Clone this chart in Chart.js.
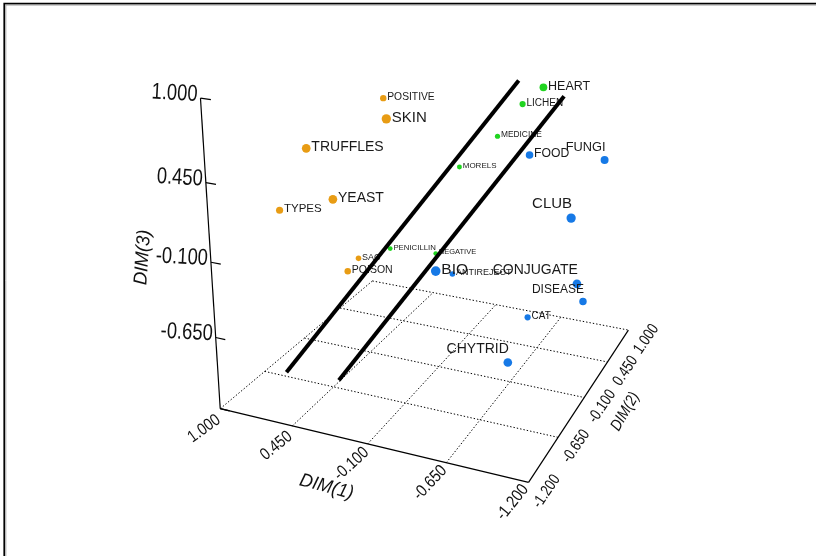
<!DOCTYPE html>
<html>
<head>
<meta charset="utf-8">
<script src="https://cdn.jsdelivr.net/npm/chart.js@4.4.1/dist/chart.umd.min.js"></script>
<style>
  html, body { margin: 0; padding: 0; background: #fff; }
  canvas { display: block; }
</style>
</head>
<body>
<canvas id="chart" width="816" height="556"></canvas>
<script>
// ---- data: terms placed on three dimensions ----
const terms = ['POSITIVE', 'SKIN', 'TRUFFLES', 'YEAST', 'TYPES', 'SAC', 'POISON',
  'HEART', 'LICHEN', 'MEDICINE', 'MORELS', 'PENICILLIN', 'NEGATIVE',
  'FOOD', 'FUNGI', 'CLUB', 'CONJUGATE', 'DISEASE', 'BIO', 'ANTIREJECT', 'CAT', 'CHYTRID'];
const cluster = [0, 0, 0, 0, 0, 0, 0,
  1, 1, 1, 1, 1, 1,
  2, 2, 2, 2, 2, 2, 2, 2, 2];
const dim1 = [0.622, 0.266, 0.810, 0.552, 0.760, 0.305, 0.327,
  -0.702, -0.484, -0.516, -0.219, 0.126, -0.157,
  -0.786, -0.997, -0.950, -0.958, -0.980, -0.258, -0.235, -0.755, -0.787];
const dim2 = [0.450, -0.210, -0.320, -0.430, -0.760, -0.540, -0.650,
  0.120, 0.340, -0.190, -0.100, -0.430, -0.320,
  -0.320, 0.670, 0.120, 0.340, 0.450, -0.540, -0.210, -0.100, -0.540];
const dim3 = [0.602, 0.684, 0.428, 0.133, 0.140, -0.218, -0.271,
  0.942, 0.736, 0.668, 0.378, -0.157, -0.187,
  0.620, 0.296, 0.045, -0.552, -0.741, -0.206, -0.375, -0.657, -0.781];

// two separating segments, endpoints given as (DIM1, DIM2, DIM3)
const divider1 = [[0.853, -0.601, -1.2], [-0.569, 0.011, 1.0]];
const divider2 = [[0.461, -0.554, -1.2], [-0.950, -0.200, 1.0]];

// axis ticks (same for all three dimensions)
const tickValues = [1.0, 0.45, -0.1, -0.65, -1.2];
const tickLabels = ['1.000', '0.450', '-0.100', '-0.650', '-1.200'];

// ---- styles ----
const clusterColors = ['#e89c14', '#20d420', '#1679e6'];
const labelPx = [10.3, 15, 14, 14, 11.5, 9, 10.5,
  12.5, 10, 8.4, 8, 7.8, 7.5,
  12.2, 12.8, 15, 14, 12, 15.5, 9, 10, 14];
const labelSide = ['r', 'r', 'r', 'r', 'r', 'r', 'r',
  'r', 'r', 'r', 'r', 'r', 'r',
  'r', 'l', 'l', 'l', 'l', 'r', 'r', 'r', 'l'];
const FONT = '"Liberation Sans", Arial, Helvetica, sans-serif';

// ---- perspective view of the cube ----
// cube coordinates: u along DIM1 (1.0 -> -1.2), v along DIM2 (-1.2 -> 1.0), w along DIM3 (-1.2 -> 1.0)
const AX_MIN = -1.2, AX_MAX = 1.0, AX_SPAN = AX_MAX - AX_MIN;
const camera = [
  [267.15, 242.40, -41.34, 218],
  [33.87, -63.22, -326.24, 411],
  [-0.08463, 0.23764, -0.10778, 1]
];
function viewCube(u, v, w) {
  const r = camera.map(row => row[0] * u + row[1] * v + row[2] * w + row[3]);
  return { x: r[0] / r[2], y: r[1] / r[2] };
}
function view(d1, d2, d3) {
  return viewCube((AX_MAX - d1) / AX_SPAN, (d2 - AX_MIN) / AX_SPAN, (d3 - AX_MIN) / AX_SPAN);
}

// ---- datasets ----
const pointSets = [0, 1, 2].map(c => {
  const pts = [];
  terms.forEach((t, i) => {
    if (cluster[i] !== c) return;
    const p = view(dim1[i], dim2[i], dim3[i]);
    pts.push({ x: p.x, y: p.y, term: t, fs: labelPx[i], side: labelSide[i] });
  });
  return {
    type: 'scatter',
    label: 'cluster ' + (c + 1),
    data: pts,
    backgroundColor: clusterColors[c],
    borderWidth: 0,
    pointRadius: ctx => ctx.raw ? ctx.raw.fs * 0.31 : 3,
    pointHoverRadius: ctx => ctx.raw ? ctx.raw.fs * 0.31 : 3,
    isTerms: true
  };
});
const dividerSet = seg => ({
  type: 'scatter',
  label: 'divider',
  data: seg.map(p => view(p[0], p[1], p[2])),
  showLine: true,
  borderColor: '#000',
  borderWidth: 4,
  borderCapStyle: 'butt',
  pointRadius: 0,
  pointHoverRadius: 0
});

// ---- drawing helpers ----
function txt(ctx, s, x, y, o) {
  ctx.save();
  ctx.translate(x, y);
  ctx.rotate((o.angle || 0) * Math.PI / 180);
  ctx.scale(o.sx || 1, 1);
  ctx.font = (o.style ? o.style + ' ' : '') + o.size + 'px ' + FONT;
  ctx.fillStyle = o.color || '#111';
  ctx.textAlign = o.align || 'center';
  ctx.textBaseline = o.baseline || 'middle';
  ctx.fillText(s, 0, 0);
  ctx.restore();
}

const framePlugin = {
  id: 'frame',
  beforeDraw(chart) {
    const ctx = chart.ctx;
    ctx.save();
    ctx.fillStyle = '#fff';
    ctx.fillRect(0, 0, chart.width, chart.height);
    ctx.strokeStyle = '#000';
    ctx.lineWidth = 1.6;
    ctx.beginPath();
    ctx.moveTo(4.2, chart.height); ctx.lineTo(4.2, 3.6); ctx.lineTo(chart.width, 3.6);
    ctx.stroke();
    ctx.strokeStyle = '#9a9a9a';
    ctx.lineWidth = 1;
    ctx.beginPath();
    ctx.moveTo(5.8, chart.height); ctx.lineTo(5.8, 5); ctx.lineTo(chart.width, 5);
    ctx.stroke();
    ctx.restore();
  }
};

const boxPlugin = {
  id: 'box3d',
  beforeDatasetsDraw(chart) {
    const ctx = chart.ctx, sx = chart.scales.x, sy = chart.scales.y;
    const P = (u, v, w) => {
      const p = viewCube(u, v, w);
      return [sx.getPixelForValue(p.x), sy.getPixelForValue(p.y)];
    };
    const seg = (a, b) => { ctx.beginPath(); ctx.moveTo(a[0], a[1]); ctx.lineTo(b[0], b[1]); ctx.stroke(); };
    const frac = tickValues.map(t => (t - AX_MIN) / AX_SPAN);

    ctx.save();
    // floor grid (dotted)
    ctx.strokeStyle = '#000';
    ctx.lineWidth = 1;
    ctx.setLineDash([1.4, 2]);
    tickValues.forEach(t => {
      const u = (AX_MAX - t) / AX_SPAN;
      if (u < 1) seg(P(u, 0, 0), P(u, 1, 0));
      const v = (t - AX_MIN) / AX_SPAN;
      if (v > 0) seg(P(0, v, 0), P(1, v, 0));
    });
    // solid axes
    ctx.setLineDash([]);
    ctx.strokeStyle = '#000';
    ctx.lineWidth = 1.2;
    seg(P(0, 0, 0), P(1, 0, 0));
    seg(P(1, 0, 0), P(1, 1, 0));
    seg(P(0, 0, 0), P(0, 0, 1));
    // ticks on the vertical axis
    frac.forEach(w => seg(P(0, 0, w), P(0.033, 0, w)));

    // DIM(3) tick labels
    tickValues.forEach((t, i) => {
      const w = (t - AX_MIN) / AX_SPAN;
      if (w <= 0) return;
      const p = P(0, 0, w);
      txt(ctx, tickLabels[i], p[0] - 3, p[1] - 3.5, { size: 23, sx: 0.8, align: 'right', angle: 3 });
    });
    // DIM(1) tick labels, following the depth direction of the floor
    tickValues.forEach((t, i) => {
      const u = (AX_MAX - t) / AX_SPAN;
      const a = P(u, 0, 0), b = P(u, 1, 0);
      const ang = Math.atan2(b[1] - a[1], b[0] - a[0]) * 180 / Math.PI * 0.9;
      txt(ctx, tickLabels[i], a[0] - 16, a[1] + 20, { size: 17, sx: 0.84, angle: ang });
    });
    // DIM(2) tick labels
    tickValues.forEach((t, i) => {
      const v = (t - AX_MIN) / AX_SPAN;
      const a = P(1, v, 0);
      txt(ctx, tickLabels[i], a[0] + 18, a[1] + 9, { size: 16, sx: 0.8, angle: -56 });
    });
    // axis titles
    const m1 = P(0.5, 0, 0);
    txt(ctx, 'DIM(1)', m1[0] - 41, m1[1] + 43, { size: 19, sx: 0.95, angle: 15, style: 'italic' });
    const m2 = P(1, 0.5, 0);
    txt(ctx, 'DIM(2)', m2[0] + 41, m2[1] + 14, { size: 16, sx: 0.85, angle: -60, style: 'italic' });
    const m3 = P(0, 0, 0.5);
    txt(ctx, 'DIM(3)', m3[0] - 68, m3[1] - 5, { size: 19, sx: 0.95, angle: -86, style: 'italic' });
    ctx.restore();
  },
  afterDatasetDraw(chart, args) {
    const ds = chart.data.datasets[args.index];
    if (!ds.isTerms) return;
    const ctx = chart.ctx;
    ctx.save();
    args.meta.data.forEach((el, k) => {
      const d = ds.data[k];
      const r = d.fs * 0.31;
      if (d.side === 'r') {
        txt(ctx, d.term, el.x + r + 0.8, el.y - 1.2, { size: d.fs, align: 'left', color: '#1a1a1a' });
      } else {
        txt(ctx, d.term, el.x + 1, el.y - 0.95 * d.fs, { size: d.fs, align: 'right', color: '#1a1a1a' });
      }
    });
    ctx.restore();
  }
};

new Chart(document.getElementById('chart'), {
  type: 'scatter',
  data: {
    // dividers first so they are painted above the terms
    datasets: [dividerSet(divider1), dividerSet(divider2), ...pointSets]
  },
  options: {
    responsive: false,
    animation: false,
    devicePixelRatio: 1,
    events: [],
    layout: { padding: 0 },
    plugins: { legend: { display: false }, tooltip: { enabled: false } },
    scales: {
      x: { type: 'linear', min: 0, max: 816, display: false },
      y: { type: 'linear', min: 0, max: 556, reverse: true, display: false }
    }
  },
  plugins: [framePlugin, boxPlugin]
});
</script>
</body>
</html>
